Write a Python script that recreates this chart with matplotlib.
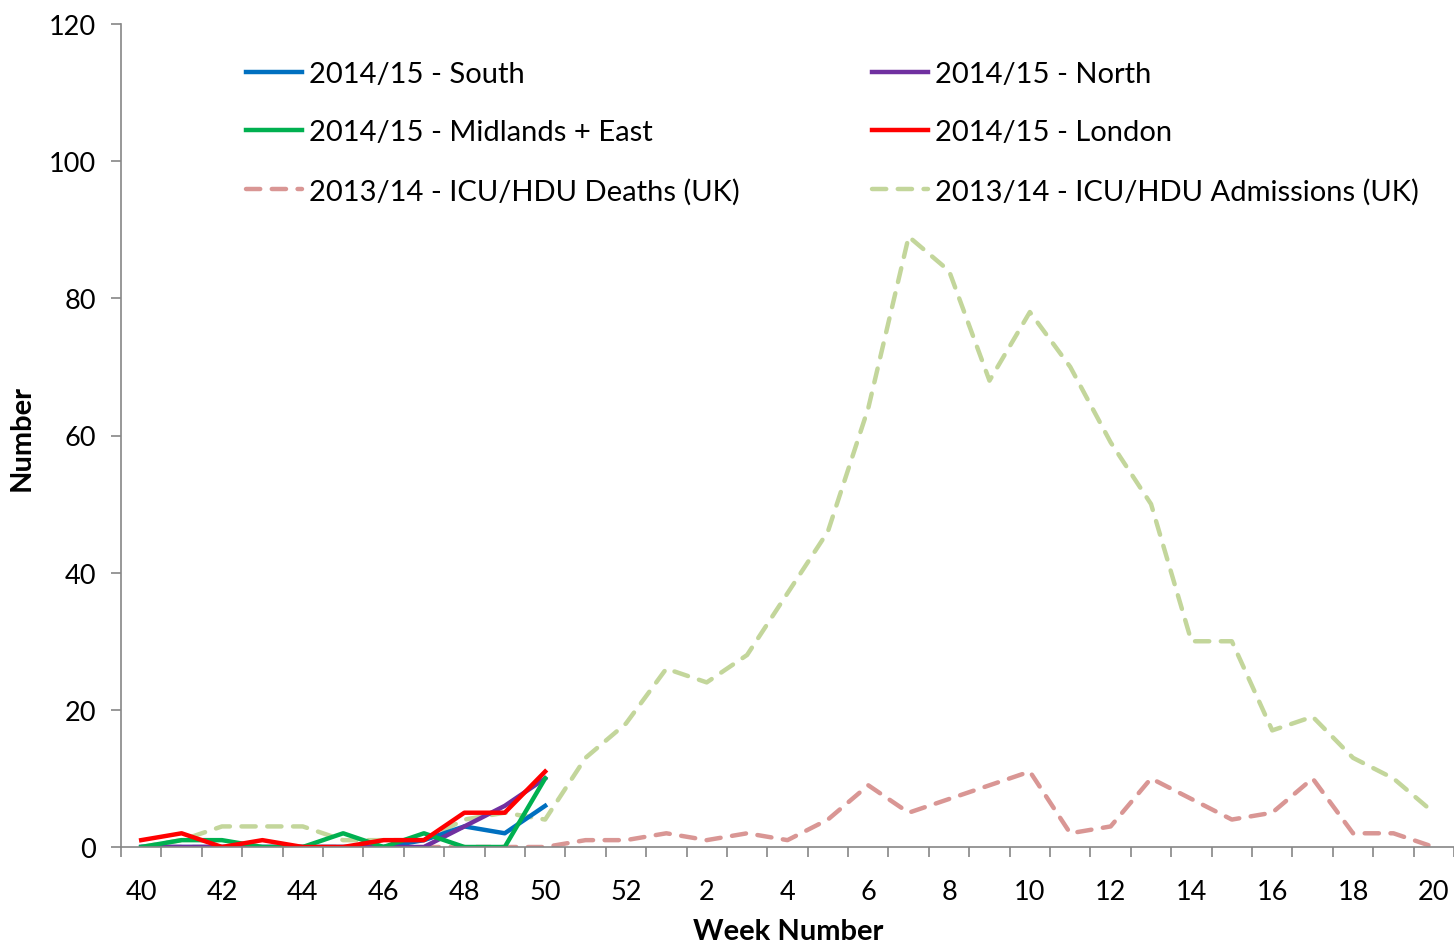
import matplotlib
matplotlib.use('Agg')
import matplotlib.pyplot as plt
import numpy as np

plt.rcParams['font.family'] = ['Lato', 'DejaVu Sans']

# Week categories (season runs week 40 to week 20)
weeks = [str(w) for w in range(40, 53)] + [str(w) for w in range(1, 21)]

# 2014/15 regional counts (weeks 40-50)
south = [0, 0, 0, 0, 0, 0, 0, 1, 3, 2, 6]
north = [0, 0, 0, 0, 0, 0, 0, 0, 3, 6, 10]
midlands = [0, 1, 1, 0, 0, 2, 0, 2, 0, 0, 10]
london = [1, 2, 0, 1, 0, 0, 1, 1, 5, 5, 11]

# 2013/14 UK ICU/HDU figures (full season)
deaths = [0, 0, 0, 0, 0, 0, 0, 0, 0, 0, 0, 1, 1, 2, 1, 2, 1, 4, 9, 5, 7,
          9, 11, 2, 3, 10, 7, 4, 5, 10, 2, 2, 0]
admissions = [0, 1, 3, 3, 3, 1, 1, 1, 4, 5, 4, 13, 18, 26, 24, 28, 37, 46, 64,
              89, 84, 68, 78, 70, 59, 50, 30, 30, 17, 19, 13, 10, 5]

x = np.arange(len(weeks))

fig = plt.figure(figsize=(14.54, 9.45), dpi=100)
ax = fig.add_axes([121 / 1454, 1 - 848 / 945, 1333 / 1454, 823 / 945])

dash = dict(linestyle=(0, (3.2, 2.6)), linewidth=3.2, dash_capstyle='round')
h_adm, = ax.plot(x, admissions, color='#C3D69B', label='2013/14 - ICU/HDU Admissions (UK)', **dash)
h_dea, = ax.plot(x, deaths, color='#D99694', label='2013/14 - ICU/HDU Deaths (UK)', **dash)

n = len(south)
h_s, = ax.plot(x[:n], south, color='#0070C0', lw=3.2, label='2014/15 - South')
h_n, = ax.plot(x[:n], north, color='#7030A0', lw=3.2, label='2014/15 - North')
h_m, = ax.plot(x[:n], midlands, color='#00B050', lw=3.2, label='2014/15 - Midlands + East')
h_l, = ax.plot(x[:n], london, color='#FF0000', lw=3.2, label='2014/15 - London')

ax.set_xlim(-0.5, len(weeks) - 0.5)
ax.set_ylim(0, 120)
ax.set_yticks(range(0, 121, 20))

ax.set_xticks(x[::2])
ax.set_xticklabels(weeks[::2])
ax.set_xticks(np.arange(-0.5, len(weeks), 1), minor=True)
ax.tick_params(axis='x', which='major', length=0, pad=23, labelsize=19.5)
ax.tick_params(axis='x', which='minor', length=7, color='#868686', width=1.2)
ax.tick_params(axis='y', which='major', length=7, color='#868686', width=1.2, labelsize=19.5, pad=11)

for s in ['top', 'right']:
    ax.spines[s].set_visible(False)
for s in ['left', 'bottom']:
    ax.spines[s].set_color('#868686')
    ax.spines[s].set_linewidth(1.2)

ax.set_xlabel('Week Number', fontsize=21, fontweight='bold', va='center')
ax.xaxis.set_label_coords((788 - 121) / 1333, -(932 - 848) / 823)
ax.set_ylabel('Number', fontsize=21, fontweight='bold', va='center')
ax.yaxis.set_label_coords(-(121 - 22) / 1333, (848 - 438) / 823)

ax.legend(handles=[h_s, h_m, h_dea, h_n, h_l, h_adm], ncol=2, frameon=False,
          loc='upper left', bbox_to_anchor=(220 / 1454, 1 - 36 / 945),
          bbox_transform=fig.transFigure, fontsize=21, handlelength=1.9,
          handletextpad=0.25, labelspacing=1.1, columnspacing=4.55)

fig.savefig('out.png', dpi=100)
